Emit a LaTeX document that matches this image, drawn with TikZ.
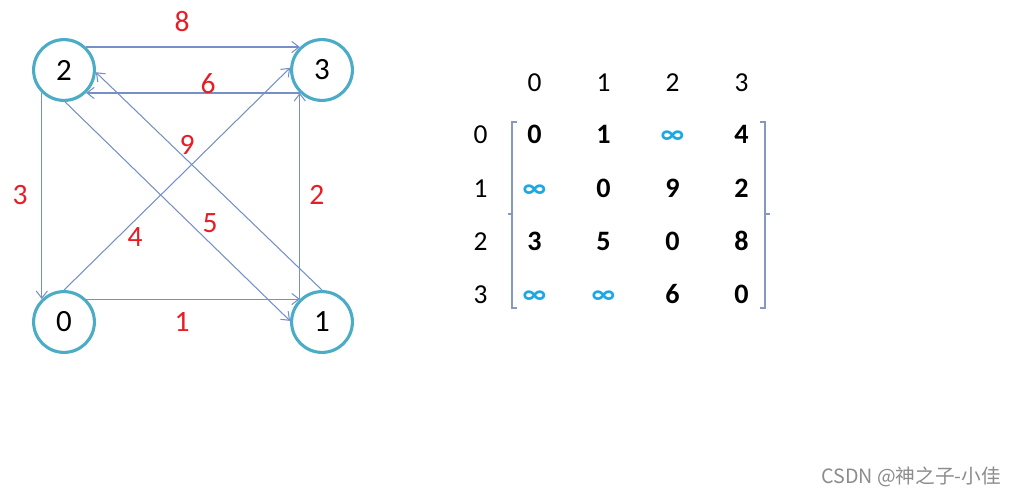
\documentclass[tikz,border=0pt]{standalone}
\usepackage{fontspec}
\setmainfont{Carlito}
\newfontfamily\cjk{Noto Sans CJK SC}
\usepackage{xcolor}
\usetikzlibrary{matrix, arrows.meta}
\definecolor{ringblue}{RGB}{75,172,198}
\definecolor{edgeblue}{RGB}{118,143,200}
\definecolor{wred}{RGB}{232,28,36}
\definecolor{infblue}{RGB}{28,168,228}
\definecolor{brkgray}{RGB}{135,152,190}

\begin{document}
\begin{tikzpicture}[
        vertex/.style={circle, draw=ringblue, line width=2.2pt, minimum size=1.52cm, inner sep=0pt, font=\fontsize{22}{24}\selectfont},
        edge/.style={draw=edgeblue, line width=0.75pt, -{Straight Barb[length=1.8mm,width=2.8mm]}},
        weight/.style={text=wred, font=\fontsize{21}{23}\selectfont},
        idx/.style={font=\fontsize{19.5}{21}\selectfont, text height=0.43cm, text depth=0pt, inner sep=0pt},
        inf/.style={text=infblue},
        bracket/.style={draw=brkgray, line width=0.8pt}
      ]
        \useasboundingbox (0,0) rectangle (25.4,-12.4);

        % graph
        \node[vertex] (v2) at (1.6,-1.75) {2};
        \node[vertex] (v3) at (8.05,-1.75) {3};
        \node[vertex] (v0) at (1.6,-8.05) {0};
        \node[vertex] (v1) at (8.05,-8.05) {1};

        \draw[edge] (v2.46) -- (v3.134);
        \draw[edge] (v3.-134) -- (v2.-46);
        \draw[edge] (v2.-134) -- (v0.134);
        \draw[edge] (v0.46) -- (v1.134);
        \draw[edge] (v1.134) -- (v3.-134);
        \draw[edge] (v0.90) -- (v3.176);
        \draw[edge] (v2.-88) -- (v1.178);
        \draw[edge] (v1.90) -- (v2.-4);

        \node[weight] (w23) at (4.55,-0.55) {8};
        \node[weight] (w32) at (5.2,-2.08) {6};
        \node[weight] (w12) at (4.675,-3.62) {9};
        \node[weight] (w20) at (0.5,-4.88) {3};
        \node[weight] (w03) at (3.375,-5.92) {4};
        \node[weight] (w21) at (5.25,-5.58) {5};
        \node[weight] (w13) at (7.92,-4.88) {2};
        \node[weight] (w01) at (4.55,-8.05) {1};

        % adjacency matrix
        \matrix (m) at (15.95,-5.375) [matrix of nodes, row sep=0pt, column sep=0pt,
          nodes={minimum width=1.725cm, minimum height=1.33cm, inner sep=0pt, text height=0.43cm, text depth=0pt,
                 font=\fontsize{20}{22}\selectfont\bfseries}] {
          0 & 1 & |[inf]| ∞ & 4 \\
          |[inf]| ∞ & 0 & 9 & 2 \\
          3 & 5 & 0 & 8 \\
          |[inf]| ∞ & |[inf]| ∞ & 6 & 0 \\
        };
        \foreach \k in {1,...,4} {
          \pgfmathtruncatemacro{\lbl}{\k-1}
          \node[idx] (h\k) at ([yshift=1.3cm]m-1-\k.center) {\lbl};
          \node[idx] (r\k) at ([xshift=-1.35cm]m-\k-1.center) {\lbl};
        }

        \draw[bracket] (12.93,-3.05) -- (12.8,-3.05) -- (12.8,-7.7) -- (12.93,-7.7);
        \draw[bracket] (12.8,-5.35) -- (12.7,-5.35);
        \draw[bracket] (19.0,-3.05) -- (19.125,-3.05) -- (19.125,-7.7) -- (19.0,-7.7);
        \draw[bracket] (19.125,-5.35) -- (19.25,-5.35);

        \node[text=black!45, font=\cjk\fontsize{14}{16}\selectfont] (wm) at (22.78,-11.93) {CSDN @神之子-小佳};
      \end{tikzpicture}
\end{document}
